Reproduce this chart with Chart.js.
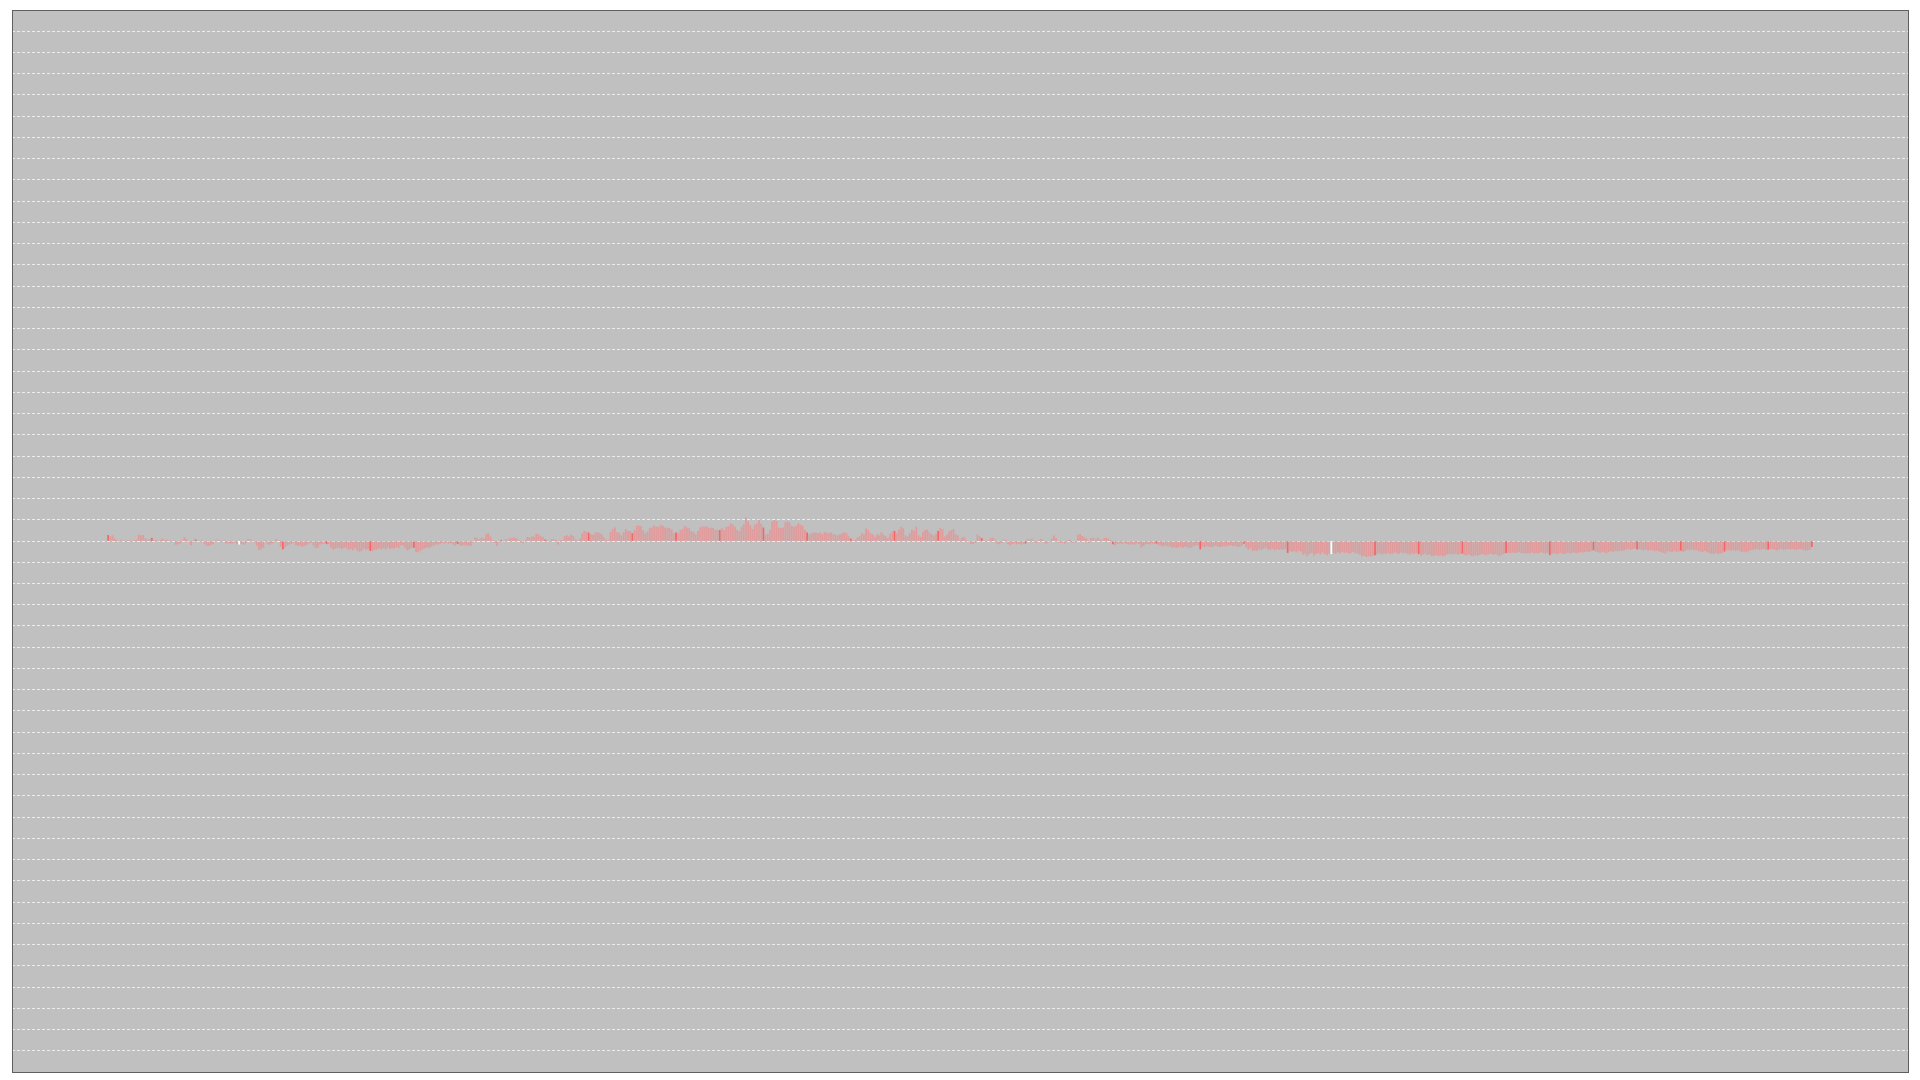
<!DOCTYPE html>
<html>
<head>
<meta charset="utf-8">
<script src="https://cdn.jsdelivr.net/npm/chart.js@4.4.0/dist/chart.umd.min.js"></script>
<style>
  html, body { margin: 0; padding: 0; background: #ffffff; }
  #wrap { width: 1920px; height: 1080px; position: relative; }
</style>
</head>
<body>
<div id="wrap"><canvas id="c"></canvas></div>
<script>
// ---- data (one per bar) ----
const values = [
  0.27, 0.2, 0.25, 0.1, 0.03, -0.02, 0.04, 0.02, -0.03, 0.03,
  0.01, -0.02, 0.02, 0.04, 0.28, 0.25, 0.27, 0.12, 0.05, 0.08,
  0.13, 0.04, 0.03, -0.02, 0.05, 0.1, 0.03, 0.06, 0.02, -0.03,
  0.02, -0.16, -0.14, -0.1, 0.04, 0.16, 0.05, -0.06, -0.19, -0.05,
  0.06, 0.03, -0.02, 0.04, -0.1, -0.2, -0.22, -0.18, -0.12, 0.02,
  0.05, 0.03, -0.04, 0.03, -0.1, -0.08, -0.12, -0.09, -0.06, -0.14,
  -0.15, -0.12, -0.16, -0.1, 0.08, 0.06, 0.03, -0.05, -0.2, -0.41,
  -0.38, -0.3, 0.02, -0.14, -0.16, -0.1, -0.05, 0.08, 0.02, -0.25,
  -0.38, -0.3, -0.2, -0.15, -0.12, -0.08, -0.18, -0.22, -0.2, -0.25,
  -0.2, -0.16, -0.1, -0.06, -0.2, -0.33, -0.3, -0.16, -0.12, -0.1,
  -0.13, -0.13, -0.3, -0.38, -0.35, -0.3, -0.32, -0.37, -0.3, -0.3,
  -0.4, -0.36, -0.42, -0.33, -0.44, -0.49, -0.46, -0.35, -0.4, -0.36,
  -0.45, -0.46, -0.4, -0.39, -0.34, -0.38, -0.33, -0.38, -0.3, -0.36,
  -0.31, -0.35, -0.28, -0.32, -0.19, -0.2, -0.32, -0.42, -0.38, -0.3,
  -0.3, -0.5, -0.52, -0.45, -0.38, -0.33, -0.28, -0.32, -0.25, -0.2,
  -0.15, -0.16, -0.12, -0.08, -0.1, -0.06, -0.1, -0.08, -0.15, -0.2,
  -0.12, -0.18, -0.22, -0.16, -0.2, -0.2, -0.22, -0.05, 0.16, 0.14,
  0.06, 0.15, 0.1, 0.3, 0.36, 0.2, 0.03, -0.08, -0.22, -0.05,
  0.04, -0.03, 0.08, 0.05, 0.14, 0.12, 0.15, 0.1, 0.04, -0.06,
  -0.09, 0.02, 0.18, 0.14, 0.2, 0.18, 0.33, 0.3, 0.2, 0.18,
  0.06, 0.03, -0.04, 0.06, 0.08, 0.02, -0.15, 0.03, 0.02, 0.22,
  0.25, 0.2, 0.28, 0.22, 0.05, 0.02, 0.1, 0.35, 0.46, 0.42,
  0.38, 0.3, 0.28, 0.38, 0.4, 0.37, 0.3, 0.15, 0.02, 0.05,
  0.42, 0.55, 0.62, 0.4, 0.38, 0.25, 0.4, 0.55, 0.45, 0.46,
  0.35, 0.5, 0.7, 0.71, 0.68, 0.48, 0.35, 0.43, 0.6, 0.62,
  0.71, 0.66, 0.65, 0.74, 0.7, 0.62, 0.6, 0.6, 0.52, 0.35,
  0.38, 0.36, 0.5, 0.55, 0.69, 0.62, 0.6, 0.45, 0.42, 0.3,
  0.46, 0.62, 0.68, 0.65, 0.69, 0.58, 0.62, 0.6, 0.52, 0.51,
  0.5, 0.6, 0.5, 0.65, 0.68, 0.82, 0.75, 0.66, 0.5, 0.45,
  0.65, 0.77, 1.09, 0.9, 0.74, 0.55, 0.75, 0.82, 1.0, 0.8,
  0.62, 0.3, 0.33, 0.52, 0.9, 0.97, 0.92, 0.62, 0.6, 0.62,
  0.86, 0.92, 0.85, 0.7, 0.65, 0.7, 0.82, 0.75, 0.7, 0.5,
  0.38, 0.3, 0.35, 0.4, 0.38, 0.35, 0.38, 0.3, 0.4, 0.38,
  0.35, 0.38, 0.3, 0.28, 0.25, 0.3, 0.35, 0.4, 0.35, 0.2,
  0.1, 0.02, 0.04, 0.15, 0.2, 0.35, 0.3, 0.58, 0.5, 0.35,
  0.3, 0.18, 0.3, 0.25, 0.4, 0.28, 0.22, 0.12, 0.32, 0.42,
  0.46, 0.35, 0.52, 0.66, 0.58, 0.25, 0.2, 0.35, 0.52, 0.48,
  0.66, 0.25, 0.18, 0.4, 0.5, 0.52, 0.38, 0.3, 0.23, 0.32,
  0.46, 0.6, 0.55, 0.2, 0.28, 0.42, 0.5, 0.55, 0.3, 0.24,
  0.05, 0.15, 0.17, 0.03, -0.02, -0.12, -0.14, -0.08, 0.28, 0.2,
  0.12, 0.02, -0.03, 0.02, 0.12, 0.13, 0.05, -0.1, -0.14, -0.08,
  0.05, 0.04, -0.14, -0.18, -0.12, -0.1, -0.14, -0.12, -0.15, -0.11,
  -0.1, 0.08, 0.06, 0.09, -0.04, -0.08, 0.03, 0.08, 0.06, -0.1,
  -0.09, -0.03, 0.1, 0.24, 0.12, -0.06, -0.08, -0.06, -0.1, -0.02,
  0.03, -0.05, -0.08, -0.04, 0.28, 0.3, 0.22, 0.15, 0.1, -0.08,
  0.12, 0.14, 0.06, 0.14, 0.06, 0.02, 0.12, 0.14, 0.1, 0.02,
  -0.14, -0.19, -0.12, -0.1, -0.12, -0.08, -0.11, -0.14, -0.16, -0.12,
  -0.15, -0.09, -0.13, -0.3, -0.22, -0.14, -0.12, -0.15, -0.1, -0.13,
  -0.11, -0.18, -0.2, -0.24, -0.2, -0.23, -0.25, -0.3, -0.27, -0.32,
  -0.28, -0.26, -0.3, -0.24, -0.27, -0.32, -0.3, -0.22, -0.18, -0.2,
  -0.38, -0.24, -0.28, -0.22, -0.25, -0.28, -0.26, -0.2, -0.24, -0.27,
  -0.25, -0.22, -0.24, -0.2, -0.19, -0.23, -0.21, -0.27, -0.26, -0.2,
  -0.11, -0.3, -0.4, -0.32, -0.45, -0.42, -0.46, -0.38, -0.4, -0.35,
  -0.3, -0.38, -0.4, -0.34, -0.42, -0.38, -0.4, -0.37, -0.4, -0.35,
  -0.55, -0.45, -0.5, -0.46, -0.52, -0.45, -0.48, -0.62, -0.58, -0.7,
  -0.6, -0.55, -0.67, -0.6, -0.55, -0.62, -0.52, -0.6, -0.65, -0.58,
  -0.6, -0.55, -0.58, -0.52, -0.56, -0.5, -0.55, -0.52, -0.58, -0.55,
  -0.5, -0.56, -0.58, -0.62, -0.7, -0.68, -0.74, -0.7, -0.72, -0.68,
  -0.65, -0.6, -0.56, -0.62, -0.58, -0.6, -0.55, -0.6, -0.58, -0.52,
  -0.55, -0.58, -0.52, -0.56, -0.55, -0.6, -0.62, -0.56, -0.6, -0.55,
  -0.6, -0.68, -0.62, -0.58, -0.64, -0.62, -0.7, -0.68, -0.65, -0.7,
  -0.66, -0.72, -0.68, -0.62, -0.6, -0.62, -0.6, -0.58, -0.62, -0.6,
  -0.58, -0.64, -0.66, -0.62, -0.68, -0.7, -0.65, -0.68, -0.64, -0.6,
  -0.62, -0.65, -0.6, -0.58, -0.63, -0.6, -0.65, -0.7, -0.62, -0.6,
  -0.55, -0.55, -0.56, -0.52, -0.55, -0.54, -0.5, -0.56, -0.55, -0.58,
  -0.55, -0.56, -0.53, -0.58, -0.55, -0.56, -0.52, -0.55, -0.58, -0.54,
  -0.65, -0.6, -0.56, -0.6, -0.58, -0.55, -0.6, -0.58, -0.54, -0.56,
  -0.55, -0.52, -0.56, -0.55, -0.5, -0.53, -0.5, -0.48, -0.5, -0.46,
  -0.42, -0.48, -0.5, -0.55, -0.48, -0.52, -0.56, -0.5, -0.46, -0.5,
  -0.45, -0.47, -0.44, -0.46, -0.42, -0.38, -0.35, -0.4, -0.36, -0.34,
  -0.38, -0.36, -0.4, -0.42, -0.38, -0.44, -0.4, -0.42, -0.46, -0.44,
  -0.48, -0.5, -0.55, -0.58, -0.46, -0.48, -0.52, -0.45, -0.5, -0.48,
  -0.44, -0.5, -0.46, -0.4, -0.42, -0.38, -0.42, -0.4, -0.46, -0.48,
  -0.5, -0.45, -0.52, -0.55, -0.58, -0.6, -0.55, -0.6, -0.58, -0.55,
  -0.48, -0.42, -0.4, -0.44, -0.4, -0.45, -0.42, -0.46, -0.5, -0.48,
  -0.52, -0.46, -0.42, -0.4, -0.38, -0.36, -0.4, -0.38, -0.36, -0.4,
  -0.39, -0.38, -0.36, -0.4, -0.42, -0.38, -0.36, -0.4, -0.38, -0.35,
  -0.38, -0.36, -0.38, -0.4, -0.37, -0.36, -0.4, -0.44, -0.42, -0.4,
  -0.27
];
// categories: sample positions 0..N-1
const samples = values.map((_, i) => i);
// y axis ticks (grid every unit, no labels shown)
const yTickMin = -25;
const yTickMax = 25;
const yTickStep = 1;
// bars drawn in white in the reference
const whiteBars = [60, 560];

// ---- styles ----
const paleRed = 'rgba(255, 120, 120, 0.5)';
const strongRed = 'rgba(255, 80, 80, 0.8)';
const markEvery = 20;

const framePlugin = {
  id: 'frame',
  beforeDraw(chart) {
    const { ctx, chartArea: a } = chart;
    ctx.save();
    ctx.fillStyle = '#c0c0c0';
    ctx.fillRect(a.left, a.top, a.right - a.left, a.bottom - a.top);
    ctx.restore();
  },
  afterDraw(chart) {
    const { ctx, chartArea: a } = chart;
    ctx.save();
    ctx.strokeStyle = '#5f5f5f';
    ctx.lineWidth = 1;
    ctx.strokeRect(a.left + 0.5, a.top + 0.5, a.right - a.left, a.bottom - a.top);
    ctx.restore();
  }
};

new Chart(document.getElementById('c'), {
  type: 'bar',
  data: {
    labels: samples,
    datasets: [{
      data: values,
      barThickness: 1.1,
      borderWidth: 0,
      backgroundColor: (c) => {
        const i = c.dataIndex;
        if (whiteBars.includes(i)) return '#ffffff';
        return i % markEvery === 0 ? strongRed : paleRed;
      }
    }]
  },
  options: {
    responsive: true,
    maintainAspectRatio: false,
    animation: false,
    devicePixelRatio: 1,
    layout: { padding: { left: 12, top: 10, right: 12, bottom: 8 } },
    plugins: { legend: { display: false }, tooltip: { enabled: false }, title: { display: false } },
    scales: {
      x: {
        type: 'linear',
        display: false,
        min: -44,
        max: 824,
        offset: false
      },
      y: {
        display: true,
        min: yTickMin,
        max: yTickMax,
        ticks: { display: false, stepSize: yTickStep, maxTicksLimit: 101 },
        grid: { color: 'rgba(255,255,255,0.7)', lineWidth: 1, drawTicks: false },
        border: { display: false, dash: [3, 2] }
      }
    }
  },
  plugins: [framePlugin]
});
</script>
</body>
</html>
